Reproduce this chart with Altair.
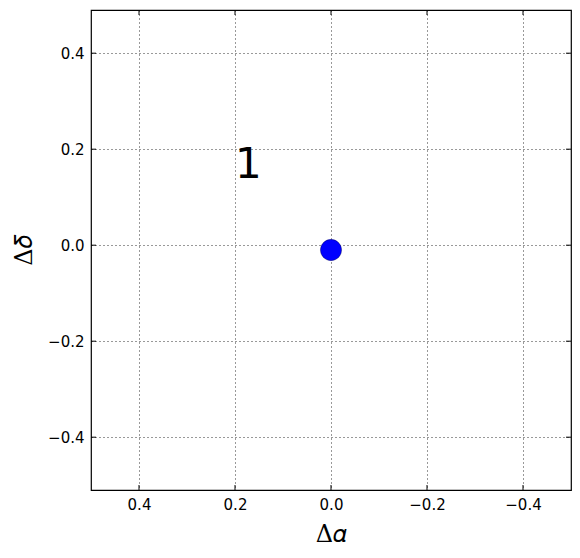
import altair as alt
import pandas as pd

# data
star_x = [0.0]
star_y = [-0.01]
labels = ["1"]
label_x = [0.2]
label_y = [0.14]
tick_vals = [0.4, 0.2, 0.0, -0.2, -0.4]
x_domain = [0.5, -0.5]
y_domain = [-0.51, 0.49]

pts = pd.DataFrame({"x": star_x, "y": star_y})
txt = pd.DataFrame({"x": label_x, "y": label_y, "t": labels})
ticks = pd.DataFrame({"v": tick_vals})

xs = alt.Scale(domain=x_domain, nice=False, zero=False)
ys = alt.Scale(domain=y_domain, nice=False, zero=False)

xaxis = alt.Axis(values=tick_vals, format=".1f", grid=True, gridColor="#000000",
                 gridDash=[1, 3], gridOpacity=0.8, gridWidth=1, ticks=False, domain=False,
                 labelFont="DejaVu Sans", labelFontSize=15, labelColor="#000000",
                 labelPadding=7, title="Δ𝛼", titleFont="DejaVu Serif",
                 titleFontSize=24, titleFontWeight="normal", titleColor="#000000",
                 titlePadding=10)
yaxis = alt.Axis(values=tick_vals, format=".1f", grid=True, gridColor="#000000",
                 gridDash=[1, 3], gridOpacity=0.8, gridWidth=1, ticks=False, domain=False,
                 labelFont="DejaVu Sans", labelFontSize=15, labelColor="#000000",
                 labelPadding=7, title="Δ𝛿", titleFont="DejaVu Serif",
                 titleFontSize=24, titleFontWeight="normal", titleColor="#000000",
                 titlePadding=11)

base_pts = alt.Chart(pts).mark_circle(size=452, color="#0000ff", opacity=1,
                                      stroke="#000000", strokeWidth=0.3).encode(
    x=alt.X("x:Q", scale=xs, axis=xaxis),
    y=alt.Y("y:Q", scale=ys, axis=yaxis),
)

text = alt.Chart(txt).mark_text(align="left", baseline="alphabetic", fontSize=42,
                                font="DejaVu Sans", color="#000000").encode(
    x=alt.X("x:Q", scale=xs),
    y=alt.Y("y:Q", scale=ys),
    text="t:N",
)

tk = alt.Chart(ticks)
tick_len = 5
xt_bottom = tk.mark_rule(color="#000000", strokeWidth=1).encode(
    x=alt.X("v:Q", scale=xs), y=alt.value(480), y2=alt.value(480 - tick_len))
xt_top = tk.mark_rule(color="#000000", strokeWidth=1).encode(
    x=alt.X("v:Q", scale=xs), y=alt.value(0), y2=alt.value(tick_len))
yt_left = tk.mark_rule(color="#000000", strokeWidth=1).encode(
    y=alt.Y("v:Q", scale=ys), x=alt.value(0), x2=alt.value(tick_len))
yt_right = tk.mark_rule(color="#000000", strokeWidth=1).encode(
    y=alt.Y("v:Q", scale=ys), x=alt.value(480), x2=alt.value(480 - tick_len))

chart = alt.layer(base_pts, xt_bottom, xt_top, yt_left, yt_right, text).properties(
    width=480, height=480,
    background="#ffffff",
    autosize=alt.AutoSizeParams(type="none"),
    padding={"left": 83, "top": 2, "right": 1, "bottom": 56},
).configure_view(stroke="#000000", strokeWidth=1.2)

chart.save("out.html", embed_options={"renderer": "svg", "actions": False})
